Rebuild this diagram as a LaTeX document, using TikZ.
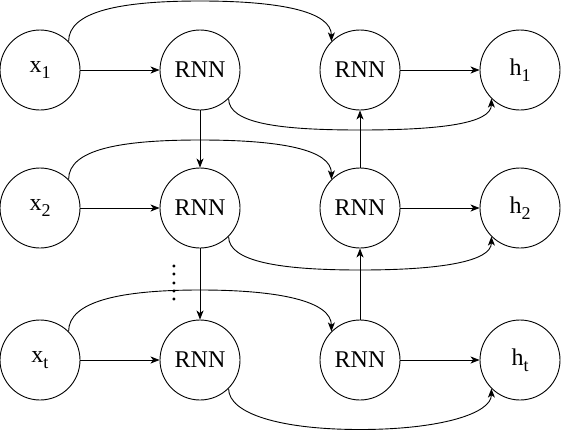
\documentclass[tikz,border=0pt]{standalone}
\usepackage{fontspec}
\setmainfont{Liberation Serif}
\usetikzlibrary{arrows.meta}
\newcommand{\sbs}[1]{\raisebox{-6pt}{\fontsize{18}{18}\selectfont #1}}
\begin{document}
\begin{tikzpicture}[x=1pt,y=-1pt,
  cell/.style={draw, circle, minimum size=80pt, inner sep=0pt, line width=0.9pt, font=\fontsize{24}{24}\selectfont},
  conn/.style={line width=0.9pt, -{Stealth[length=9pt,width=7pt,inset=2.5pt]}},
  dotsnode/.style={rotate=90, inner sep=0pt, font=\fontsize{24}{24}\selectfont}]
\useasboundingbox (0,0) rectangle (561,431);
% row 1
\node[cell] (x1) at (40,70) {x\sbs{1}};
\node[cell] (a1) at (200,70) {RNN};
\node[cell] (b1) at (360,70) {RNN};
\node[cell] (h1) at (520,70) {h\sbs{1}};
% row 2
\node[cell] (x2) at (40,208) {x\sbs{2}};
\node[cell] (a2) at (200,208) {RNN};
\node[cell] (b2) at (360,208) {RNN};
\node[cell] (h2) at (520,208) {h\sbs{2}};
% row 3
\node[cell] (x3) at (40,360) {x\sbs{t}};
\node[cell] (a3) at (200,360) {RNN};
\node[cell] (b3) at (360,360) {RNN};
\node[cell] (h3) at (520,360) {h\sbs{t}};
% dots
\node[dotsnode] (dots) at (174,283) {.\kern2.2pt.\kern2.2pt.\kern2.2pt.\kern2.2pt.};
% waypoints
\coordinate (p1) at (200,1);
\coordinate (p2) at (200,140);
\coordinate (p3) at (200,290);
\coordinate (q1) at (360,130);
\coordinate (q2) at (360,270);
\coordinate (q3) at (360,429.5);
% straight arrows
\foreach \r in {1,2,3}{
  \draw[conn] (x\r) -- (a\r);
  \draw[conn] (b\r) -- (h\r);
}
\draw[conn] (a1) -- (a2);
\draw[conn] (a2) -- (a3);
\draw[conn] (b2) -- (b1);
\draw[conn] (b3) -- (b2);
% curved arrows
\foreach \r in {1,2,3}{
  \draw[conn] (x\r.45) .. controls +(0,-30) and +(-80,0) .. (p\r)
     .. controls +(80,0) and +(0,-30) .. (b\r.135);
  \draw[conn] (a\r.-45) .. controls +(0,25) and +(-80,0) .. (q\r)
     .. controls +(80,0) and +(0,25) .. (h\r.-135);
}
\end{tikzpicture}
\end{document}
